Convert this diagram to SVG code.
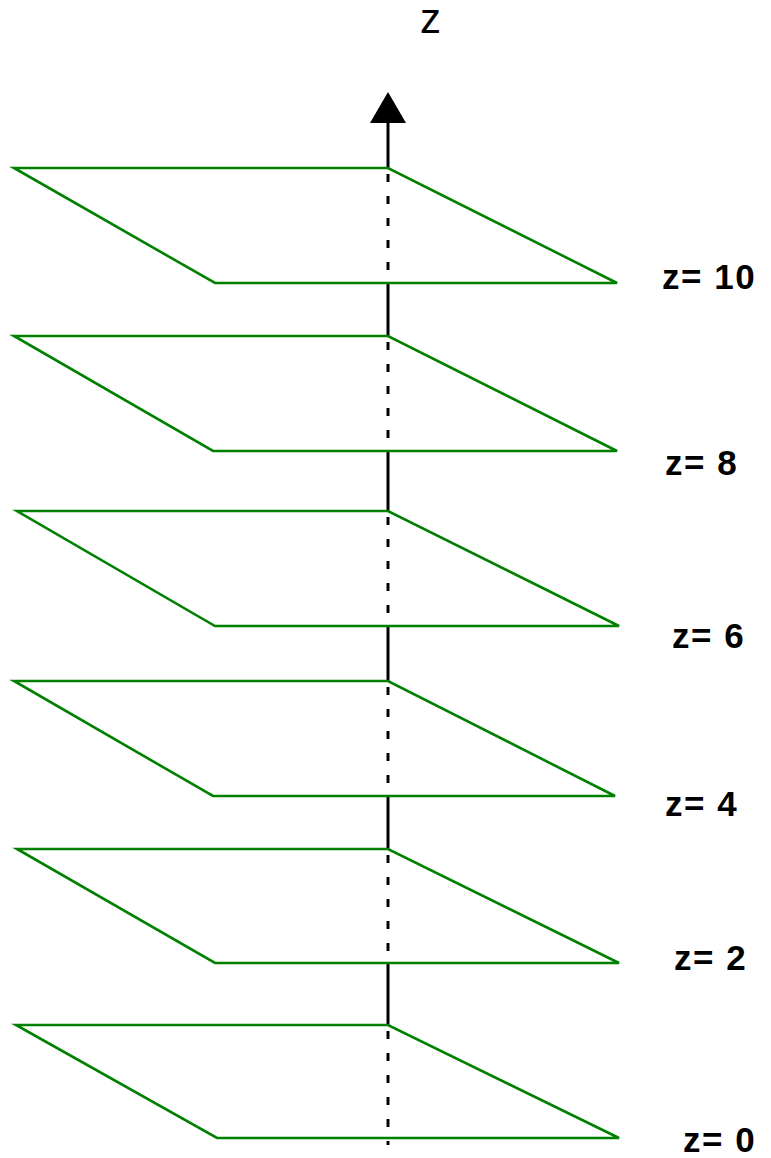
<svg xmlns="http://www.w3.org/2000/svg" width="771" height="1158" viewBox="0 0 771 1158">
<style>
.plane{fill:none;stroke:#008000;stroke-width:2.6;stroke-linejoin:miter}
.solid{stroke:#000;stroke-width:3;fill:none}
.dash{stroke:#000;stroke-width:3;fill:none;stroke-dasharray:8 14}
.lbl{font-family:"Liberation Sans",Arial,sans-serif;font-weight:bold;font-size:35px;letter-spacing:1.5px;fill:#000}
.axis{font-family:"Liberation Sans",Arial,sans-serif;font-size:42px;fill:#000}
</style>
<rect width="771" height="1158" fill="#fff"/>
<g id="connectors">
<path class="solid" d="M388 120 V168 M388 283 V336 M388 451 V511 M388 626 V681 M388 796 V849 M388 963 V1025"/>
<path class="dash" d="M388 174 V283 M388 342 V451 M388 517 V626 M388 687 V796 M388 855 V963 M388 1031 V1145"/>
<polygon points="388,92 370,123 406,123" fill="#000"/>
</g>
<g id="plane10"><polygon class="plane" points="14,168 388,168 617,283 215,283"/><text class="lbl" x="662" y="289">z= 10</text></g>
<g id="plane8"><polygon class="plane" points="14,336 388,336 617,451 213,451"/><text class="lbl" x="665" y="475">z= 8</text></g>
<g id="plane6"><polygon class="plane" points="17,511 388,511 619,626 215,626"/><text class="lbl" x="672" y="648">z= 6</text></g>
<g id="plane4"><polygon class="plane" points="14,681 388,681 615,796 213,796"/><text class="lbl" x="665" y="816">z= 4</text></g>
<g id="plane2"><polygon class="plane" points="17,849 388,849 619,963 215,963"/><text class="lbl" x="674" y="970">z= 2</text></g>
<g id="plane0"><polygon class="plane" points="16,1025 388,1025 619,1138 217,1138"/><text class="lbl" x="683" y="1152">z= 0</text></g>
<g id="axis-label"><text class="axis" x="420" y="33">z</text></g>
</svg>
